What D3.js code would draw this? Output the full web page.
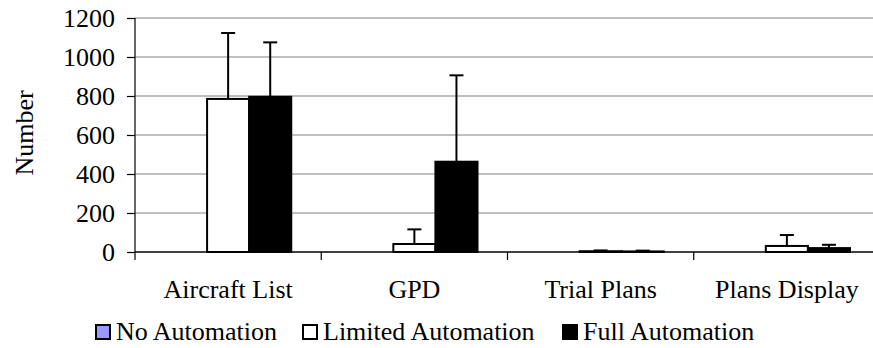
<!DOCTYPE html>
<html><head><meta charset="utf-8">
<script src="https://cdn.jsdelivr.net/npm/d3@7"></script>
<style>body{margin:0;background:#fff}svg{display:block}svg text{font-family:"Liberation Serif","Times New Roman",Times,serif !important;fill:#000}</style>
</head><body><svg id="c" width="873" height="348"></svg>
<script>
const categories = ["Aircraft List", "GPD", "Trial Plans", "Plans Display"];
const seriesNames = ["No Automation", "Limited Automation", "Full Automation"];
const noAutomation = [0, 0, 0, 0];
const limitedAutomation = [785, 41, 4, 31];
const fullAutomation = [796, 463, 3, 20];
const noAutomationErr = [0, 0, 0, 0];
const limitedAutomationErr = [338, 75, 4, 56];
const fullAutomationErr = [279, 443, 4, 17];
const yTicks = [0, 200, 400, 600, 800, 1000, 1200];
const colors = ["#9999ff", "#ffffff", "#000000"];
const FONT = '"Liberation Serif", "Times New Roman", Times, serif';

const series = [
  {name: seriesNames[0], values: noAutomation, err: noAutomationErr, color: colors[0]},
  {name: seriesNames[1], values: limitedAutomation, err: limitedAutomationErr, color: colors[1]},
  {name: seriesNames[2], values: fullAutomation, err: fullAutomationErr, color: colors[2]}
];

const svg = d3.select("#c");
const x0 = d3.scaleBand().domain(categories).range([135, 880]).paddingInner(0).paddingOuter(0);
const groupPad = 30;
const x1 = d3.scaleBand().domain(seriesNames).range([groupPad, x0.bandwidth() - groupPad]);
const y = d3.scaleLinear().domain([0, 1200]).range([252, 18]);

// gridlines
svg.append("g").selectAll("line").data(yTicks.filter(d => d > 0)).join("line")
  .attr("x1", 135).attr("x2", 880).attr("y1", d => y(d)).attr("y2", d => y(d))
  .attr("stroke", "#808080").attr("stroke-width", 1.2);

// y axis
const yAxis = d3.axisLeft(y).tickValues(yTicks).tickSize(8).tickPadding(12).tickFormat(d3.format("d"));
const ya = svg.append("g").attr("transform", "translate(135,0)").call(yAxis)
  .attr("font-family", FONT).attr("font-size", 26);
ya.select(".domain").remove();
ya.selectAll(".tick line").attr("stroke", "#000").attr("stroke-width", 1.2);
ya.selectAll(".tick text").style("font-family", FONT).style("font-size", "26px").attr("dy", "0.34em");
svg.append("line").attr("x1", 135).attr("x2", 135).attr("y1", 18).attr("y2", 260).attr("stroke", "#000").attr("stroke-width", 1.2);

// bars
const groups = svg.append("g").selectAll("g").data(categories).join("g")
  .attr("transform", d => `translate(${x0(d)},0)`);
groups.each(function(cat, ci) {
  const g = d3.select(this);
  series.forEach(s => {
    const v = s.values[ci];
    const bx = x1(s.name);
    g.append("rect").attr("x", bx).attr("width", x1.bandwidth())
      .attr("y", y(v)).attr("height", y(0) - y(v))
      .attr("fill", s.color).attr("stroke", "#000").attr("stroke-width", v > 0 ? 2 : 0);
  });
  series.forEach(s => {
    const v = s.values[ci], e = s.err[ci];
    if (!(e > 0)) return;
    const cx = x1(s.name) + x1.bandwidth() / 2;
    g.append("line").attr("x1", cx).attr("x2", cx).attr("y1", y(v)).attr("y2", y(v + e))
      .attr("stroke", "#000").attr("stroke-width", 2);
    g.append("line").attr("x1", cx - 7).attr("x2", cx + 7).attr("y1", y(v + e)).attr("y2", y(v + e))
      .attr("stroke", "#000").attr("stroke-width", 2);
  });
});

// x axis
const xAxis = d3.axisBottom(x0).tickSize(0).tickPadding(0);
const xa = svg.append("g").attr("transform", "translate(0,252)").call(xAxis)
  .attr("font-family", FONT).attr("font-size", 26);
xa.select(".domain").remove();
xa.selectAll(".tick text").style("font-family", FONT).style("font-size", "26px").attr("dy", null).attr("y", 46);
svg.append("line").attr("x1", 135).attr("x2", 880).attr("y1", 252).attr("y2", 252).attr("stroke", "#000").attr("stroke-width", 1.5);
svg.append("g").selectAll("line").data(categories.slice(1)).join("line")
  .attr("x1", d => x0(d)).attr("x2", d => x0(d)).attr("y1", 252).attr("y2", 260)
  .attr("stroke", "#000").attr("stroke-width", 1.2);

// y label
svg.append("text").attr("transform", "translate(33,133) rotate(-90)").attr("text-anchor", "middle")
  .style("font-family", FONT).style("font-size", "26px").text("Number");

// legend
const legendX = [96, 303, 563];
const lg = svg.append("g").selectAll("g").data(series).join("g")
  .attr("transform", (d, i) => `translate(${legendX[i]},325)`);
lg.append("rect").attr("width", 14).attr("height", 14).attr("fill", d => d.color).attr("stroke", "#000").attr("stroke-width", 2);
lg.append("text").attr("x", 20).attr("y", 15).style("font-family", FONT).style("font-size", "26px").text(d => d.name);
</script></body></html>
